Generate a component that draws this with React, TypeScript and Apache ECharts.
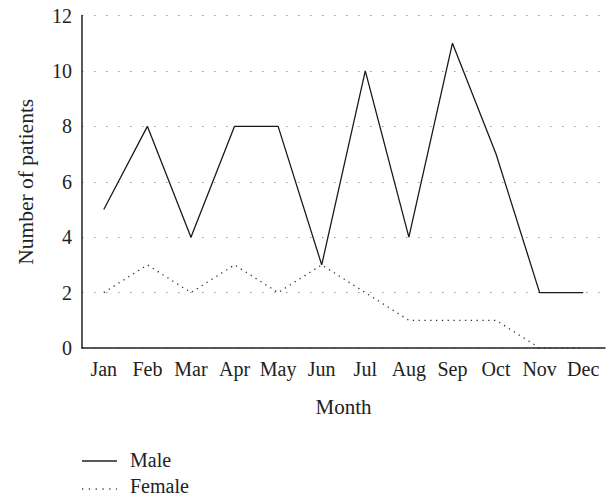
import React, { useEffect, useRef } from "react";
import * as echarts from "echarts";

const months = ["Jan", "Feb", "Mar", "Apr", "May", "Jun", "Jul", "Aug", "Sep", "Oct", "Nov", "Dec"];
const male = [5, 8, 4, 8, 8, 3, 10, 4, 11, 7, 2, 2];
const female = [2, 3, 2, 3, 2, 3, 2, 1, 1, 1, 0, 0];
const seriesNames = ["Male", "Female"];

const FONT = "'Liberation Serif', 'Times New Roman', serif";
const INK = "#222";

export default function App() {
  const ref = useRef<HTMLDivElement>(null);
  useEffect(() => {
    if (!ref.current) return;
    const chart = echarts.init(ref.current, undefined, { renderer: "svg" });
    chart.setOption({
      animation: false,
      backgroundColor: "#ffffff",
      textStyle: { fontFamily: FONT },
      grid: { left: 82, right: 1, top: 15.5, bottom: 150, containLabel: false },
      legend: { show: false },
      xAxis: {
        type: "category",
        data: months,
        boundaryGap: true,
        name: "Month",
        nameLocation: "middle",
        nameGap: 48,
        nameTextStyle: { fontFamily: FONT, fontSize: 21, color: INK },
        axisLine: { show: true, lineStyle: { color: INK, width: 1.5 } },
        axisTick: { show: false },
        axisLabel: { fontFamily: FONT, fontSize: 20, color: INK, margin: 11, interval: 0 },
        splitLine: { show: false },
      },
      yAxis: {
        type: "value",
        min: 0,
        max: 12,
        interval: 2,
        name: "Number of patients",
        nameLocation: "middle",
        nameGap: 45,
        nameTextStyle: { fontFamily: FONT, fontSize: 21.5, color: INK },
        axisLine: { show: true, lineStyle: { color: INK, width: 1.5 } },
        axisTick: { show: false },
        axisLabel: { fontFamily: FONT, fontSize: 20, color: INK, margin: 10 },
        splitLine: { show: true, lineStyle: { color: "#999", width: 1.2, type: [1.5, 10.5] } },
      },
      graphic: [
        { type: "line", shape: { x1: 82, y1: 461, x2: 117, y2: 461 }, style: { stroke: INK, lineWidth: 1.3 } },
        { type: "text", x: 130, y: 460, style: { text: seriesNames[0], font: `20px ${FONT}`, fill: INK, textVerticalAlign: "middle" } },
        { type: "line", shape: { x1: 82, y1: 489, x2: 117, y2: 489 }, style: { stroke: "#444", lineWidth: 1.3, lineDash: [1.3, 5.5] } },
        { type: "text", x: 130, y: 486, style: { text: seriesNames[1], font: `20px ${FONT}`, fill: INK, textVerticalAlign: "middle" } },
      ],
      series: [
        {
          name: seriesNames[0],
          type: "line",
          data: male,
          symbol: "none",
          lineStyle: { color: "#1a1a1a", width: 1.3, type: "solid" },
        },
        {
          name: seriesNames[1],
          type: "line",
          data: female,
          symbol: "none",
          lineStyle: { color: "#333", width: 1.3, type: [1.3, 4.5] },
        },
      ],
    });
    return () => chart.dispose();
  }, []);
  return <div ref={ref} style={{ width: 606, height: 498, position: "absolute", left: 0, top: 0 }} />;
}
